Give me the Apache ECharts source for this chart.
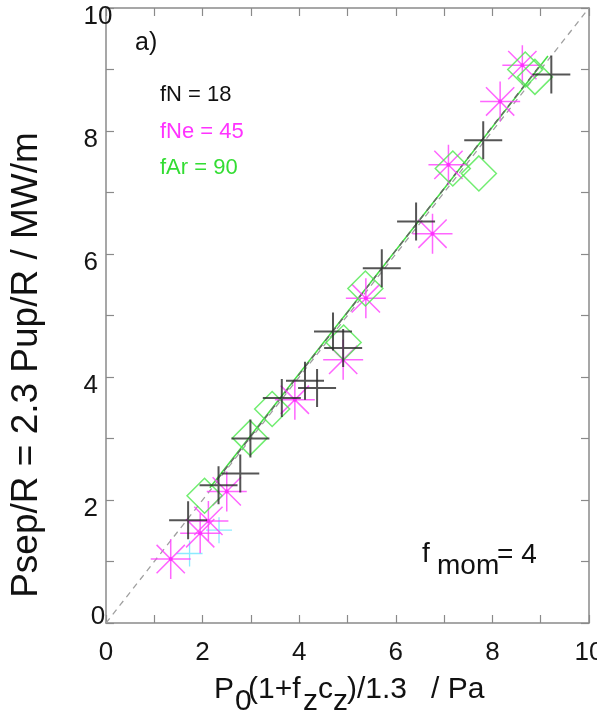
<!DOCTYPE html>
<html>
<head>
<meta charset="utf-8">
<script src="https://cdn.jsdelivr.net/npm/echarts@6/dist/echarts.min.js"></script>
<style>
html,body{margin:0;padding:0;background:#fff;}
#c{width:597px;height:719px;}
</style>
</head>
<body>
<div id="c"></div>
<script>
// ---- data ----
const axisTickLabels = [0, 2, 4, 6, 8, 10];

// fN = 18 (black plus)
const nX = [1.70, 2.33, 2.78, 2.99, 3.64, 4.12, 4.37, 4.70, 4.91, 5.71, 6.42, 7.81, 9.22];
const nY = [1.67, 2.24, 2.43, 3.00, 3.66, 3.94, 3.82, 4.74, 4.47, 5.77, 6.53, 7.85, 8.92];

// fNe = 45 (magenta asterisk)
const neX = [1.34, 1.95, 2.12, 2.50, 3.91, 4.91, 5.38, 6.76, 7.09, 8.16, 8.62];
const neY = [1.04, 1.46, 1.66, 2.14, 3.63, 4.28, 5.28, 6.33, 7.45, 8.48, 9.07];

// fAr = 90 (green diamond)
const arX = [2.04, 2.98, 3.44, 4.92, 5.37, 7.18, 7.72, 8.68, 8.88];
const arY = [2.07, 3.01, 3.48, 4.56, 5.44, 7.39, 7.31, 9.00, 8.88];

// cyan plus
const cyX = [1.73, 2.34];
const cyY = [1.13, 1.51];

// reference lines
const diagX = [0, 10];
const diagY = [0, 10];
const fitArX = [2.15, 9.15];
const fitArY = [2.20, 9.22];
const fitNX = [2.30, 9.00];
const fitNY = [2.33, 9.08];

const zip = (a, b) => a.map((v, i) => [v, b[i]]);

const FONT = 'Liberation Sans, Arial, sans-serif';
const AXC = '#8a8a8a';

const PLUS = 'path://M0,-1L0,1M-1,0L1,0';
const STAR = 'path://M0,-1L0,1M-1,0L1,0M-0.7071,-0.7071L0.7071,0.7071M-0.7071,0.7071L0.7071,-0.7071';
const DIAM = 'path://M0,-1L1,0L0,1L-1,0Z';

function mkX(pos, showLabel) {
  return {
    type: 'value', min: 0, max: 10, interval: 1, position: pos,
    axisLine: { show: true, onZero: false, lineStyle: { color: AXC, width: 1.5 } },
    axisTick: { show: true, inside: true, length: 8, lineStyle: { color: AXC, width: 1.2 } },
    axisLabel: {
      show: showLabel, margin: 17, fontSize: 26, color: '#151515', fontFamily: FONT,
      alignMinLabel: 'center', alignMaxLabel: 'center', hideOverlap: false,
      formatter: v => axisTickLabels.indexOf(v) >= 0 ? String(v) : ''
    },
    splitLine: { show: false }
  };
}
function mkY(pos, showLabel) {
  return {
    type: 'value', min: 0, max: 10, interval: 1, position: pos,
    axisLine: { show: true, onZero: false, lineStyle: { color: AXC, width: 1.5 } },
    axisTick: { show: true, inside: true, length: 8, lineStyle: { color: AXC, width: 1.2 } },
    axisLabel: {
      show: showLabel, margin: 8, fontSize: 26, color: '#151515', fontFamily: FONT,
      alignMinLabel: 'center', alignMaxLabel: 'center', hideOverlap: false,
      formatter: v => axisTickLabels.indexOf(v) < 0 ? '' : (v === 0 ? '{z|0}' : '{d|' + v + '}'),
      rich: {
        d: { fontSize: 26, color: '#151515', fontFamily: FONT, padding: [17, 0, 0, 0] },
        z: { fontSize: 26, color: '#151515', fontFamily: FONT, padding: [0, 0, 12, 0] }
      }
    },
    splitLine: { show: false }
  };
}

const chart = echarts.init(document.getElementById('c'), null, { renderer: 'canvas' });

function txt(text, x, y, size, color, extra) {
  return Object.assign({
    type: 'text', x: x, y: y, silent: true,
    style: { text: text, fill: color || '#111', fontSize: size, fontFamily: FONT, align: 'left', verticalAlign: 'middle' }
  }, extra || {});
}

const option = {
  animation: false,
  backgroundColor: '#fff',
  grid: { left: 106, right: 8, top: 8, bottom: 96, containLabel: false, outerBoundsMode: 'none' },
  xAxis: [mkX('bottom', true), mkX('top', false)],
  yAxis: [mkY('left', true), mkY('right', false)],
  series: [
    { type: 'line', data: zip(diagX, diagY), symbol: 'none', silent: true, z: 1,
      lineStyle: { color: '#a0a0a0', width: 1.3, type: [6, 5] } },
    { type: 'line', data: zip(fitArX, fitArY), symbol: 'none', silent: true, z: 2,
      lineStyle: { color: '#44e044', width: 1.5 } },
    { type: 'line', data: zip(fitNX, fitNY), symbol: 'none', silent: true, z: 3,
      lineStyle: { color: '#666', width: 1.5, type: [6, 5] } },
    { type: 'scatter', data: zip(cyX, cyY), symbol: PLUS, symbolSize: 26, silent: true, z: 4,
      itemStyle: { color: 'none', borderColor: '#6ee6ff', borderWidth: 1.3 } },
    { type: 'scatter', data: zip(neX, neY), symbol: STAR, symbolSize: 40, silent: true, z: 5,
      itemStyle: { color: 'none', borderColor: '#ff40ff', borderWidth: 1.5 } },
    { type: 'scatter', data: zip(neX, neY), symbol: 'circle', symbolSize: 4, silent: true, z: 5,
      itemStyle: { color: '#ff20ff' } },
    { type: 'scatter', data: zip(arX, arY), symbol: DIAM, symbolSize: 35, silent: true, z: 6,
      itemStyle: { color: 'none', borderColor: '#4ee84e', borderWidth: 1.5 } },
    { type: 'scatter', data: zip(nX, nY), symbol: PLUS, symbolSize: 38, silent: true, z: 7,
      itemStyle: { color: 'none', borderColor: '#2a2a2a', borderWidth: 2 } }
  ],
  graphic: [
    txt('a)', 135, 43, 25, '#111'),
    txt('fN = 18', 160, 95, 22, '#111'),
    txt('fNe = 45', 160, 132, 22, '#ff33ff'),
    txt('fAr = 90', 160, 168, 22, '#33dd33'),
    // f_mom = 4
    txt('f', 422, 554, 28, '#111'),
    txt('mom', 437, 566, 28, '#111'),
    txt('= 4', 497, 555, 28, '#111'),
    // x axis title
    txt('P', 214, 690, 30, '#111'),
    txt('0', 235, 702, 30, '#111'),
    txt('(1+f', 248, 690, 30, '#111'),
    txt('z', 303, 702, 30, '#111'),
    txt('c', 318, 690, 30, '#111'),
    txt('z', 333, 702, 30, '#111'),
    txt(')/1.3', 347, 690, 30, '#111'),
    txt('/ Pa', 431, 690, 30, '#111'),
    // y axis title
    { type: 'text', x: 27, y: 365, rotation: Math.PI / 2, silent: true,
      style: { text: 'Psep/R = 2.3 Pup/R / MW/m', fill: '#111', fontSize: 37, fontFamily: FONT,
               align: 'center', verticalAlign: 'middle' } }
  ]
};
chart.setOption(option);
</script>
</body>
</html>
